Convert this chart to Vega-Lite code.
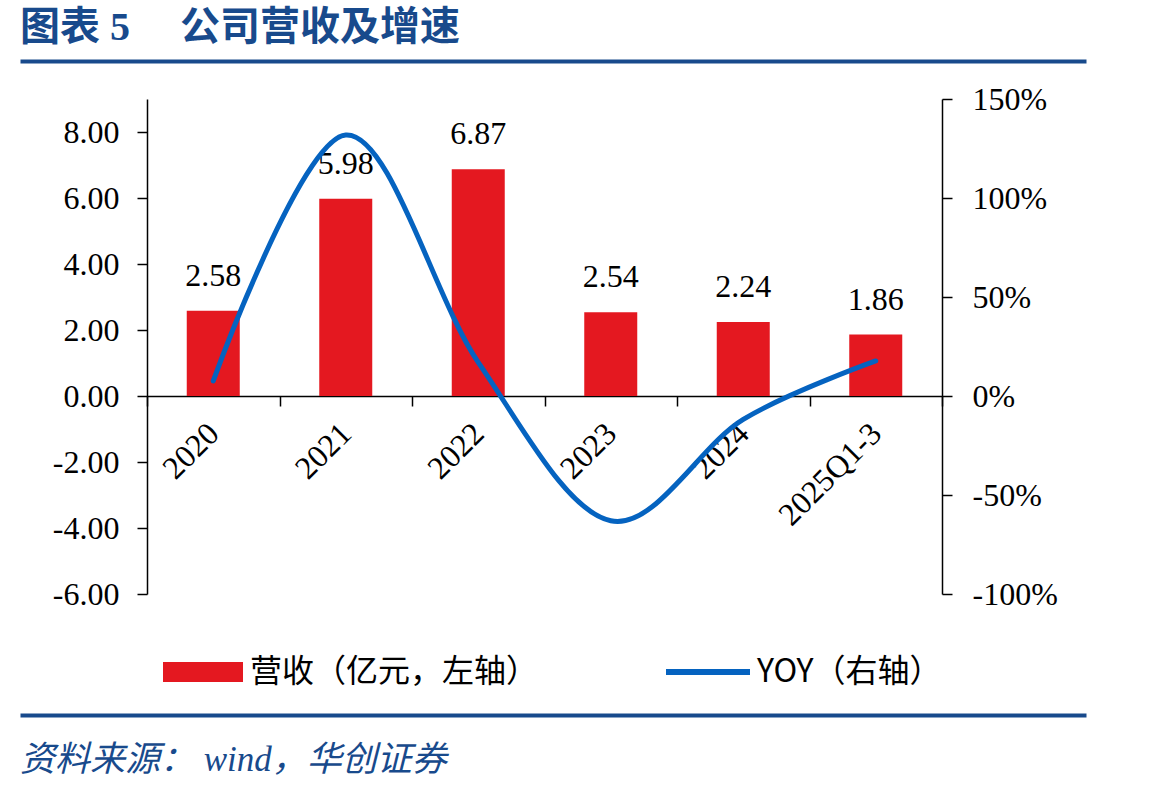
{
  "$schema": "https://vega.github.io/schema/vega-lite/v6.json",
  "background": "white",
  "padding": {"left": 20, "top": 8, "right": 0, "bottom": 0},
  "spacing": 18,
  "config": {"view": {"stroke": null}, "font": "Liberation Serif"},
  "datasets": {
    "rev": [
      {"period": "2020", "revenue": 2.58, "yoy": 7.6},
      {"period": "2021", "revenue": 5.98, "yoy": 131.8},
      {"period": "2022", "revenue": 6.87, "yoy": 17},
      {"period": "2023", "revenue": 2.54, "yoy": -63},
      {"period": "2024", "revenue": 2.24, "yoy": -11.8},
      {"period": "2025Q1-3", "revenue": 1.86, "yoy": 17.7}
    ],
    "blank": [{"t": ""}]
  },
  "vconcat": [
    {
      "width": 939,
      "height": 2,
      "title": {"text": "图表 5　 公司营收及增速", "anchor": "start", "frame": "bounds", "font": "Liberation Serif, Noto Sans CJK SC", "fontWeight": "bold", "fontSize": 40, "color": "#184A8C", "offset": 6},
      "data": {"name": "blank"},
      "mark": {"type": "text"},
      "encoding": {
        "text": {"field": "t"},
        "x": {
          "datum": 0, "type": "quantitative",
          "scale": {"domain": [0, 1], "range": [-127, 939]},
          "axis": {"orient": "bottom", "domainColor": "#184A8C", "domainWidth": 4, "ticks": false, "labels": false, "grid": false, "title": null}
        }
      }
    },
    {
      "width": 795,
      "height": 495,
      "data": {"name": "rev"},
      "encoding": {
        "x": {
          "field": "period", "type": "nominal", "sort": null,
          "scale": {"paddingInner": 0, "paddingOuter": 0},
          "axis": {
            "orient": "bottom", "offset": -198, "title": null,
            "labelAngle": -45, "labelAlign": "right", "labelBaseline": "middle",
            "labelPadding": 22, "labelFont": "Liberation Serif", "labelFontSize": 32,
            "labelColor": "black", "labelOverlap": false, "labelBound": false,
            "tickBand": "extent", "tickSize": 10, "tickColor": "black", "tickWidth": 1.5,
            "domainColor": "black", "domainWidth": 1.5, "grid": false
          }
        }
      },
      "layer": [
        {
          "encoding": {
            "y": {
              "field": "revenue", "type": "quantitative",
              "scale": {"domain": [-6, 9], "nice": false, "zero": false},
              "axis": {
                "orient": "left", "title": null, "grid": false,
                "values": [-6, -4, -2, 0, 2, 4, 6, 8],
                "labelExpr": "replace(format(datum.value, '.2f'), '\u2212', '-')",
                "labelFont": "Liberation Serif", "labelFontSize": 32, "labelColor": "black",
                "labelPadding": 18, "tickSize": 10, "tickColor": "black", "tickWidth": 1.5,
                "domainColor": "black", "domainWidth": 1.5
              }
            }
          },
          "layer": [
            {
              "mark": {"type": "bar", "width": {"band": 0.4}},
              "encoding": {
                "fill": {
                  "datum": "营收（亿元，左轴）",
                  "scale": {"range": ["#E41820"]},
                  "legend": {
                    "orient": "none", "legendX": 36, "legendY": 553, "title": null,
                    "symbolType": "M-4,-1H4V1H-4Z", "symbolSize": 400, "symbolStrokeWidth": 0,
                    "labelFont": "Noto Sans CJK SC", "labelFontSize": 32, "labelColor": "black",
                    "labelOffset": 31, "labelLimit": 0, "padding": 4
                  }
                }
              }
            },
            {
              "mark": {"type": "text", "font": "Liberation Serif", "fontSize": 32, "baseline": "alphabetic", "align": "center", "dy": -25, "color": "black"},
              "encoding": {"text": {"field": "revenue", "type": "quantitative", "format": ".2f"}}
            }
          ]
        },
        {
          "mark": {"type": "line", "interpolate": "cardinal", "strokeWidth": 5, "strokeCap": "round"},
          "encoding": {
            "y": {
              "field": "yoy", "type": "quantitative",
              "scale": {"domain": [-100, 150], "nice": false, "zero": false},
              "axis": {
                "orient": "right", "title": null, "grid": false,
                "values": [-100, -50, 0, 50, 100, 150],
                "labelExpr": "datum.value + '%'",
                "labelFont": "Liberation Serif", "labelFontSize": 32, "labelColor": "black",
                "labelPadding": 20, "tickSize": 10, "tickColor": "black", "tickWidth": 1.5,
                "domainColor": "black", "domainWidth": 1.5
              }
            },
            "stroke": {
              "datum": "YOY（右轴）",
              "scale": {"range": ["#0563C0"]},
              "legend": {
                "orient": "none", "legendX": 541, "legendY": 553, "title": null,
                "symbolType": "M-4.2,0H4.2", "symbolSize": 400, "symbolStrokeWidth": 6,
                "labelFont": "Noto Sans CJK SC", "labelFontSize": 32, "labelColor": "black",
                "labelOffset": 33, "labelLimit": 0, "padding": 4
              }
            }
          }
        }
      ],
      "resolve": {"scale": {"y": "independent", "fill": "independent", "stroke": "independent"}}
    },
    {
      "width": 939,
      "height": 2,
      "title": {"text": "资料来源： wind，华创证券", "orient": "bottom", "anchor": "start", "frame": "bounds", "font": "Liberation Serif, Noto Sans CJK SC", "fontStyle": "italic", "fontWeight": "normal", "fontSize": 35, "color": "#184A8C", "offset": 22},
      "data": {"name": "blank"},
      "mark": {"type": "text"},
      "encoding": {
        "text": {"field": "t"},
        "x": {
          "datum": 0, "type": "quantitative",
          "scale": {"domain": [0, 1], "range": [-127, 939]},
          "axis": {"orient": "top", "domainColor": "#184A8C", "domainWidth": 4, "ticks": false, "labels": false, "grid": false, "title": null}
        }
      }
    }
  ]
}
